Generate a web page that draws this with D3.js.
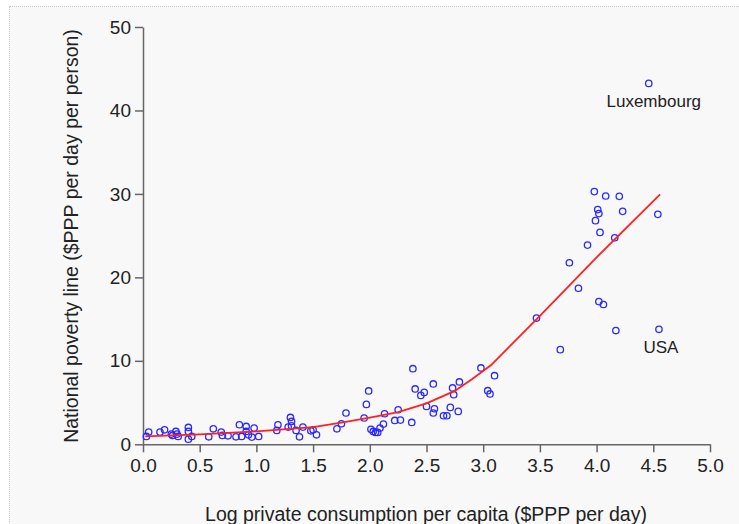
<!DOCTYPE html>
<html>
<head>
<meta charset="utf-8">
<script src="https://cdn.jsdelivr.net/npm/d3@7"></script>
<style>
  html, body { margin: 0; padding: 0; background: #fff; overflow: hidden; }
  #frame {
    position: absolute; left: 9px; top: 6px; width: 760px; height: 560px;
    border: 1px dotted #c8c8c8; background: #f8f8f8;
  }
  svg { position: absolute; left: 0; top: 0; }
  text { font-family: "Liberation Sans", Arial, sans-serif; fill: #222; }
</style>
</head>
<body>
<div id="frame"></div>
<svg id="chart" width="739" height="524"></svg>
<script>
// log private consumption per capita vs national poverty line
var consumption = [
  0.03, 0.05, 0.15, 0.19, 0.25, 0.26, 0.29, 0.30, 0.31, 0.40, 0.40, 0.40, 0.43,
  0.58, 0.62, 0.69, 0.70, 0.75, 0.82, 0.85, 0.87, 0.91, 0.91, 0.93, 0.96, 0.98, 1.02,
  1.18, 1.19, 1.28, 1.30, 1.31, 1.31, 1.35, 1.38, 1.41, 1.48, 1.50, 1.53,
  1.71, 1.75, 1.79, 1.95, 1.97, 1.99, 2.01, 2.03, 2.05, 2.07, 2.09, 2.12, 2.13, 2.22, 2.27,
  2.25, 2.37, 2.38, 2.40, 2.45, 2.48, 2.50, 2.56, 2.56, 2.57, 2.65, 2.68, 2.71, 2.73, 2.74,
  2.78, 2.79, 2.98, 3.04, 3.06, 3.10, 3.47, 3.68,
  4.46, 3.98, 4.08, 4.20, 4.01, 4.02, 4.23, 4.54, 3.99, 4.03, 4.16, 3.92, 3.76, 3.84,
  4.02, 4.06, 4.17, 4.55
];
var povertyLine = [
  0.94, 1.46, 1.46, 1.74, 1.22, 1.06, 1.54, 1.22, 0.94, 2.02, 1.54, 0.62, 0.94,
  0.90, 1.86, 1.46, 1.06, 1.02, 0.90, 2.34, 0.94, 2.14, 1.54, 1.14, 0.86, 1.94, 0.94,
  1.66, 2.34, 2.06, 3.22, 2.74, 2.22, 1.66, 0.90, 2.06, 1.62, 1.74, 1.14,
  1.86, 2.46, 3.75, 3.15, 4.78, 6.39, 1.80, 1.54, 1.42, 1.42, 1.94, 2.42, 3.66, 2.86, 2.90,
  4.14, 2.62, 9.06, 6.63, 5.86, 6.22, 4.54, 3.75, 7.23, 4.26, 3.42, 3.42, 4.42, 6.75, 5.94,
  3.94, 7.47, 9.15, 6.42, 6.03, 8.22, 15.13, 11.34,
  43.24, 30.28, 29.75, 29.71, 28.12, 27.64, 27.91, 27.55, 26.80, 25.39, 24.75, 23.87, 21.75, 18.70,
  17.10, 16.75, 13.63, 13.78
];
var countryLabels = [
  { name: 'Luxembourg', x: 4.46, y: 43.24 },
  { name: 'USA', x: 4.55, y: 13.78 }
];

// smoothed fit
var fitX = [0.02, 0.5, 1.0, 1.5, 1.75, 2.0, 2.25, 2.5, 2.75, 2.9, 3.07, 3.5, 4.0, 4.56];
var fitY = [0.95, 1.2, 1.55, 2.05, 2.6, 3.2, 3.85, 4.9, 6.4, 7.8, 9.5, 15.4, 22.4, 29.95];

var xTicks = [0, 0.5, 1, 1.5, 2, 2.5, 3, 3.5, 4, 4.5, 5];
var yTicks = [0, 10, 20, 30, 40, 50];

var svg = d3.select('#chart');

var x = d3.scaleLinear().domain([0, 5]).range([143, 710]);
var y = d3.scaleLinear().domain([0, 50]).range([444.3, 27]);

var xAxis = svg.append('g')
    .attr('transform', 'translate(0,' + y(0) + ')')
    .call(d3.axisBottom(x).tickValues(xTicks).tickSize(8).tickPadding(6)
      .tickSizeOuter(0).tickFormat(d3.format('.1f')));

var yAxis = svg.append('g')
    .attr('transform', 'translate(' + x(0) + ',0)')
    .call(d3.axisLeft(y).tickValues(yTicks).tickSize(8).tickPadding(4)
      .tickSizeOuter(0).tickFormat(d3.format('d')));

svg.selectAll('.domain, .tick line')
    .attr('stroke', '#666')
    .attr('stroke-width', 1.5);
svg.selectAll('.tick text')
    .style('font-size', '19px')
    .style('font-family', '"Liberation Sans", Arial, sans-serif')
    .attr('fill', '#222');

svg.append('text')
    .attr('x', 426)
    .attr('y', 521)
    .attr('text-anchor', 'middle')
    .style('font-size', '19.5px')
    .text('Log private consumption per capita ($PPP per day)');

svg.append('text')
    .attr('transform', 'translate(78,236) rotate(-90)')
    .attr('text-anchor', 'middle')
    .style('font-size', '19.5px')
    .text('National poverty line ($PPP per day per person)');

var pts = consumption.map(function (d, i) { return { x: d, y: povertyLine[i] }; });

svg.append('g').selectAll('circle')
    .data(pts).enter()
    .append('circle')
    .attr('cx', function (d) { return x(d.x); })
    .attr('cy', function (d) { return y(d.y); })
    .attr('r', 3.2)
    .attr('fill', 'none')
    .attr('stroke', '#2a2aff')
    .attr('stroke-width', 1.3);

var line = d3.line()
    .x(function (d, i) { return x(d); })
    .y(function (d, i) { return y(fitY[i]); });

svg.append('path')
    .datum(fitX)
    .attr('d', line)
    .attr('fill', 'none')
    .attr('stroke', '#ff2020')
    .attr('stroke-width', 1.8);

svg.selectAll('.country')
    .data(countryLabels).enter()
    .append('text')
    .attr('class', 'country')
    .attr('x', function (d) { return x(d.x) + (d.name === 'USA' ? 2 : 5); })
    .attr('y', function (d) { return y(d.y) + (d.name === 'USA' ? 24 : 24); })
    .attr('text-anchor', 'middle')
    .style('font-size', '17px')
    .attr('fill', '#333')
    .text(function (d) { return d.name; });
</script>
</body>
</html>
